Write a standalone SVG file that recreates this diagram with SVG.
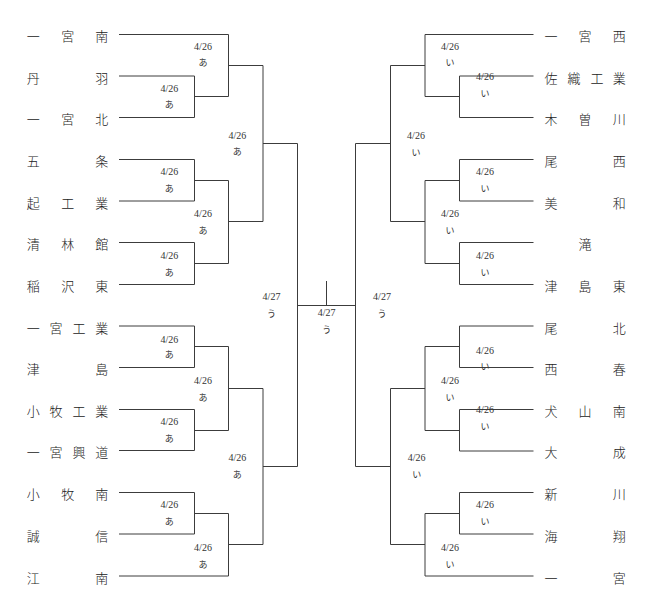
<svg xmlns="http://www.w3.org/2000/svg" width="654" height="610" viewBox="0 0 654 610">
<style>
.bg{fill:#ffffff}
.ln{fill:none;stroke:#3c3c3c;stroke-width:1}
.tm{font-family:"Noto Sans CJK JP","Noto Sans CJK SC",sans-serif;font-size:13px;font-weight:300;fill:#222;text-anchor:middle}
.dt{font-family:"Liberation Serif",serif;font-size:10px;fill:#333;text-anchor:middle}
.kn{font-family:"Noto Sans CJK JP",sans-serif;font-size:9px;fill:#333;text-anchor:middle}
</style>
<rect class="bg" x="0" y="0" width="654" height="610"/>
<g id="connectors" class="ln">
<path d="M119 34.5H228.5M119 76H194.5M119 117.5H194.5M194.5 76V117.5M194.5 96.5H228.5M228.5 34.5V96.5M228.5 65.5H263"/>
<path d="M119 159.5H194.5M119 201H194.5M194.5 159.5V201M194.5 180.5H228.5M119 242.5H194.5M119 284.5H194.5M194.5 242.5V284.5M194.5 263.5H228.5M228.5 180.5V263.5M228.5 221.5H263M263 65.5V221.5M263 143.5H297.5"/>
<path d="M119 326H194.5M119 367.5H194.5M194.5 326V367.5M194.5 346.5H228.5M119 409.5H194.5M119 450.5H194.5M194.5 409.5V450.5M194.5 430.5H228.5M228.5 346.5V430.5M228.5 388.5H263"/>
<path d="M119 492.5H194.5M119 534H194.5M194.5 492.5V534M194.5 513.5H228.5M119 576H228.5M228.5 513.5V576M228.5 544.5H263M263 388.5V544.5M263 466.5H297.5M297.5 143.5V466.5"/>
<path d="M297.5 305.5H355.5M326.5 281V305.5"/>
<path d="M533.5 34.5H425M533.5 76H459.5M533.5 117.5H459.5M459.5 76V117.5M459.5 96.5H425M425 34.5V96.5M425 65.5H390.5"/>
<path d="M533.5 159.5H459.5M533.5 201H459.5M459.5 159.5V201M459.5 180.5H425M533.5 242.5H459.5M533.5 284.5H459.5M459.5 242.5V284.5M459.5 263.5H425M425 180.5V263.5M425 221.5H390.5M390.5 65.5V221.5M390.5 143.5H355.5"/>
<path d="M533.5 326H459.5M533.5 367.5H459.5M459.5 326V367.5M459.5 346.5H425M533.5 409.5H459.5M533.5 451H459.5M459.5 409.5V451M459.5 430.5H425M425 346.5V430.5M425 388.5H390.5"/>
<path d="M533.5 492.5H459.5M533.5 534H459.5M459.5 492.5V534M459.5 513.5H425M533.5 576H425M425 513.5V576M425 544.5H390.5M390.5 388.5V544.5M390.5 466.5H355.5M355.5 143.5V466.5"/>
</g>
<g id="teams-left" class="tm">
<g id="t-ichinomiya-minami"><text x="33.3 67.7 101.7" y="41.2">一宮南</text></g>
<g id="t-niwa"><text x="33.3 101.7" y="82.7">丹羽</text></g>
<g id="t-ichinomiya-kita"><text x="33.3 67.7 101.7" y="124.2">一宮北</text></g>
<g id="t-gojo"><text x="33.3 101.7" y="166.2">五条</text></g>
<g id="t-okoshi-kogyo"><text x="33.3 67.7 101.7" y="207.7">起工業</text></g>
<g id="t-seirinkan"><text x="33.3 67.7 101.7" y="249.2">清林館</text></g>
<g id="t-inazawa-higashi"><text x="33.3 67.7 101.7" y="291.2">稲沢東</text></g>
<g id="t-ichinomiya-kogyo"><text x="33.3 56 79 101.7" y="332.7">一宮工業</text></g>
<g id="t-tsushima"><text x="33.3 101.7" y="374.2">津島</text></g>
<g id="t-komaki-kogyo"><text x="33.3 56 79 101.7" y="416.2">小牧工業</text></g>
<g id="t-ichinomiya-kodo"><text x="33.3 56 79 101.7" y="457.2">一宮興道</text></g>
<g id="t-komaki-minami"><text x="33.3 67.7 101.7" y="499.2">小牧南</text></g>
<g id="t-seishin"><text x="33.3 101.7" y="540.7">誠信</text></g>
<g id="t-konan"><text x="33.3 101.7" y="582.7">江南</text></g>
</g>
<g id="teams-right" class="tm">
<g id="t-ichinomiya-nishi"><text x="551 585 619.3" y="41.2">一宮西</text></g>
<g id="t-saori-kogyo"><text x="551 574 597 619.3" y="82.7">佐織工業</text></g>
<g id="t-kisogawa"><text x="551 585 619.3" y="124.2">木曽川</text></g>
<g id="t-bisai"><text x="551 619.3" y="166.2">尾西</text></g>
<g id="t-miwa"><text x="551 619.3" y="207.7">美和</text></g>
<g id="t-taki"><text x="585" y="249.2">滝</text></g>
<g id="t-tsushima-higashi"><text x="551 585 619.3" y="291.2">津島東</text></g>
<g id="t-bihoku"><text x="551 619.3" y="332.7">尾北</text></g>
<g id="t-nishiharu"><text x="551 619.3" y="374.2">西春</text></g>
<g id="t-inuyama-minami"><text x="551 585 619.3" y="416.2">犬山南</text></g>
<g id="t-taisei"><text x="551 619.3" y="457.2">大成</text></g>
<g id="t-shinkawa"><text x="551 619.3" y="499.2">新川</text></g>
<g id="t-kaisho"><text x="551 619.3" y="540.7">海翔</text></g>
<g id="t-ichinomiya"><text x="551 619.3" y="582.7">一宮</text></g>
</g>
<g id="labels-left">
<g id="m-l1"><text class="dt" x="169.3" y="91.8">4/26</text><text class="kn" x="169.3" y="108.2">あ</text></g>
<g id="m-l2"><text class="dt" x="203" y="49.5">4/26</text><text class="kn" x="203" y="65.9">あ</text></g>
<g id="m-l3"><text class="dt" x="169.3" y="175.2">4/26</text><text class="kn" x="169.3" y="192.2">あ</text></g>
<g id="m-l4"><text class="dt" x="169.3" y="258.5">4/26</text><text class="kn" x="169.3" y="275.5">あ</text></g>
<g id="m-l5"><text class="dt" x="203" y="216.8">4/26</text><text class="kn" x="203" y="233.5">あ</text></g>
<g id="m-l6"><text class="dt" x="237.3" y="138.5">4/26</text><text class="kn" x="237.3" y="154.9">あ</text></g>
<g id="m-l7"><text class="dt" x="169.3" y="342.5">4/26</text><text class="kn" x="169.3" y="358.2">あ</text></g>
<g id="m-l8"><text class="dt" x="169.3" y="425.2">4/26</text><text class="kn" x="169.3" y="441.5">あ</text></g>
<g id="m-l9"><text class="dt" x="203" y="383.5">4/26</text><text class="kn" x="203" y="400.5">あ</text></g>
<g id="m-l10"><text class="dt" x="169.3" y="507.8">4/26</text><text class="kn" x="169.3" y="524.9">あ</text></g>
<g id="m-l11"><text class="dt" x="203" y="551.2">4/26</text><text class="kn" x="203" y="568.2">あ</text></g>
<g id="m-l12"><text class="dt" x="237.3" y="460.8">4/26</text><text class="kn" x="237.3" y="478.2">あ</text></g>
</g>
<g id="labels-center">
<g id="m-sf-left"><text class="dt" x="271.5" y="300">4/27</text><text class="kn" x="271.5" y="317.2">う</text></g>
<g id="m-final"><text class="dt" x="326.7" y="316.2">4/27</text><text class="kn" x="326.7" y="333.2">う</text></g>
<g id="m-sf-right"><text class="dt" x="382" y="300">4/27</text><text class="kn" x="382" y="317.2">う</text></g>
</g>
<g id="labels-right">
<g id="m-r1"><text class="dt" x="450" y="49.5">4/26</text><text class="kn" x="450" y="65.9">い</text></g>
<g id="m-r2"><text class="dt" x="485" y="80.2">4/26</text><text class="kn" x="485" y="96.5">い</text></g>
<g id="m-r3"><text class="dt" x="416" y="139.2">4/26</text><text class="kn" x="416" y="155.5">い</text></g>
<g id="m-r4"><text class="dt" x="485" y="175.2">4/26</text><text class="kn" x="485" y="192.2">い</text></g>
<g id="m-r5"><text class="dt" x="450" y="216.8">4/26</text><text class="kn" x="450" y="233.9">い</text></g>
<g id="m-r6"><text class="dt" x="485" y="258.5">4/26</text><text class="kn" x="485" y="275.5">い</text></g>
<g id="m-r7"><text class="dt" x="485" y="354.2">4/26</text><text class="kn" x="485" y="369.9">い</text></g>
<g id="m-r8"><text class="dt" x="450" y="383.5">4/26</text><text class="kn" x="450" y="400.5">い</text></g>
<g id="m-r9"><text class="dt" x="485" y="412.8">4/26</text><text class="kn" x="485" y="429.9">い</text></g>
<g id="m-r10"><text class="dt" x="416.7" y="460.8">4/26</text><text class="kn" x="416.7" y="478.2">い</text></g>
<g id="m-r11"><text class="dt" x="485" y="507.8">4/26</text><text class="kn" x="485" y="524.9">い</text></g>
<g id="m-r12"><text class="dt" x="450" y="551.2">4/26</text><text class="kn" x="450" y="568.2">い</text></g>
</g>
</svg>
